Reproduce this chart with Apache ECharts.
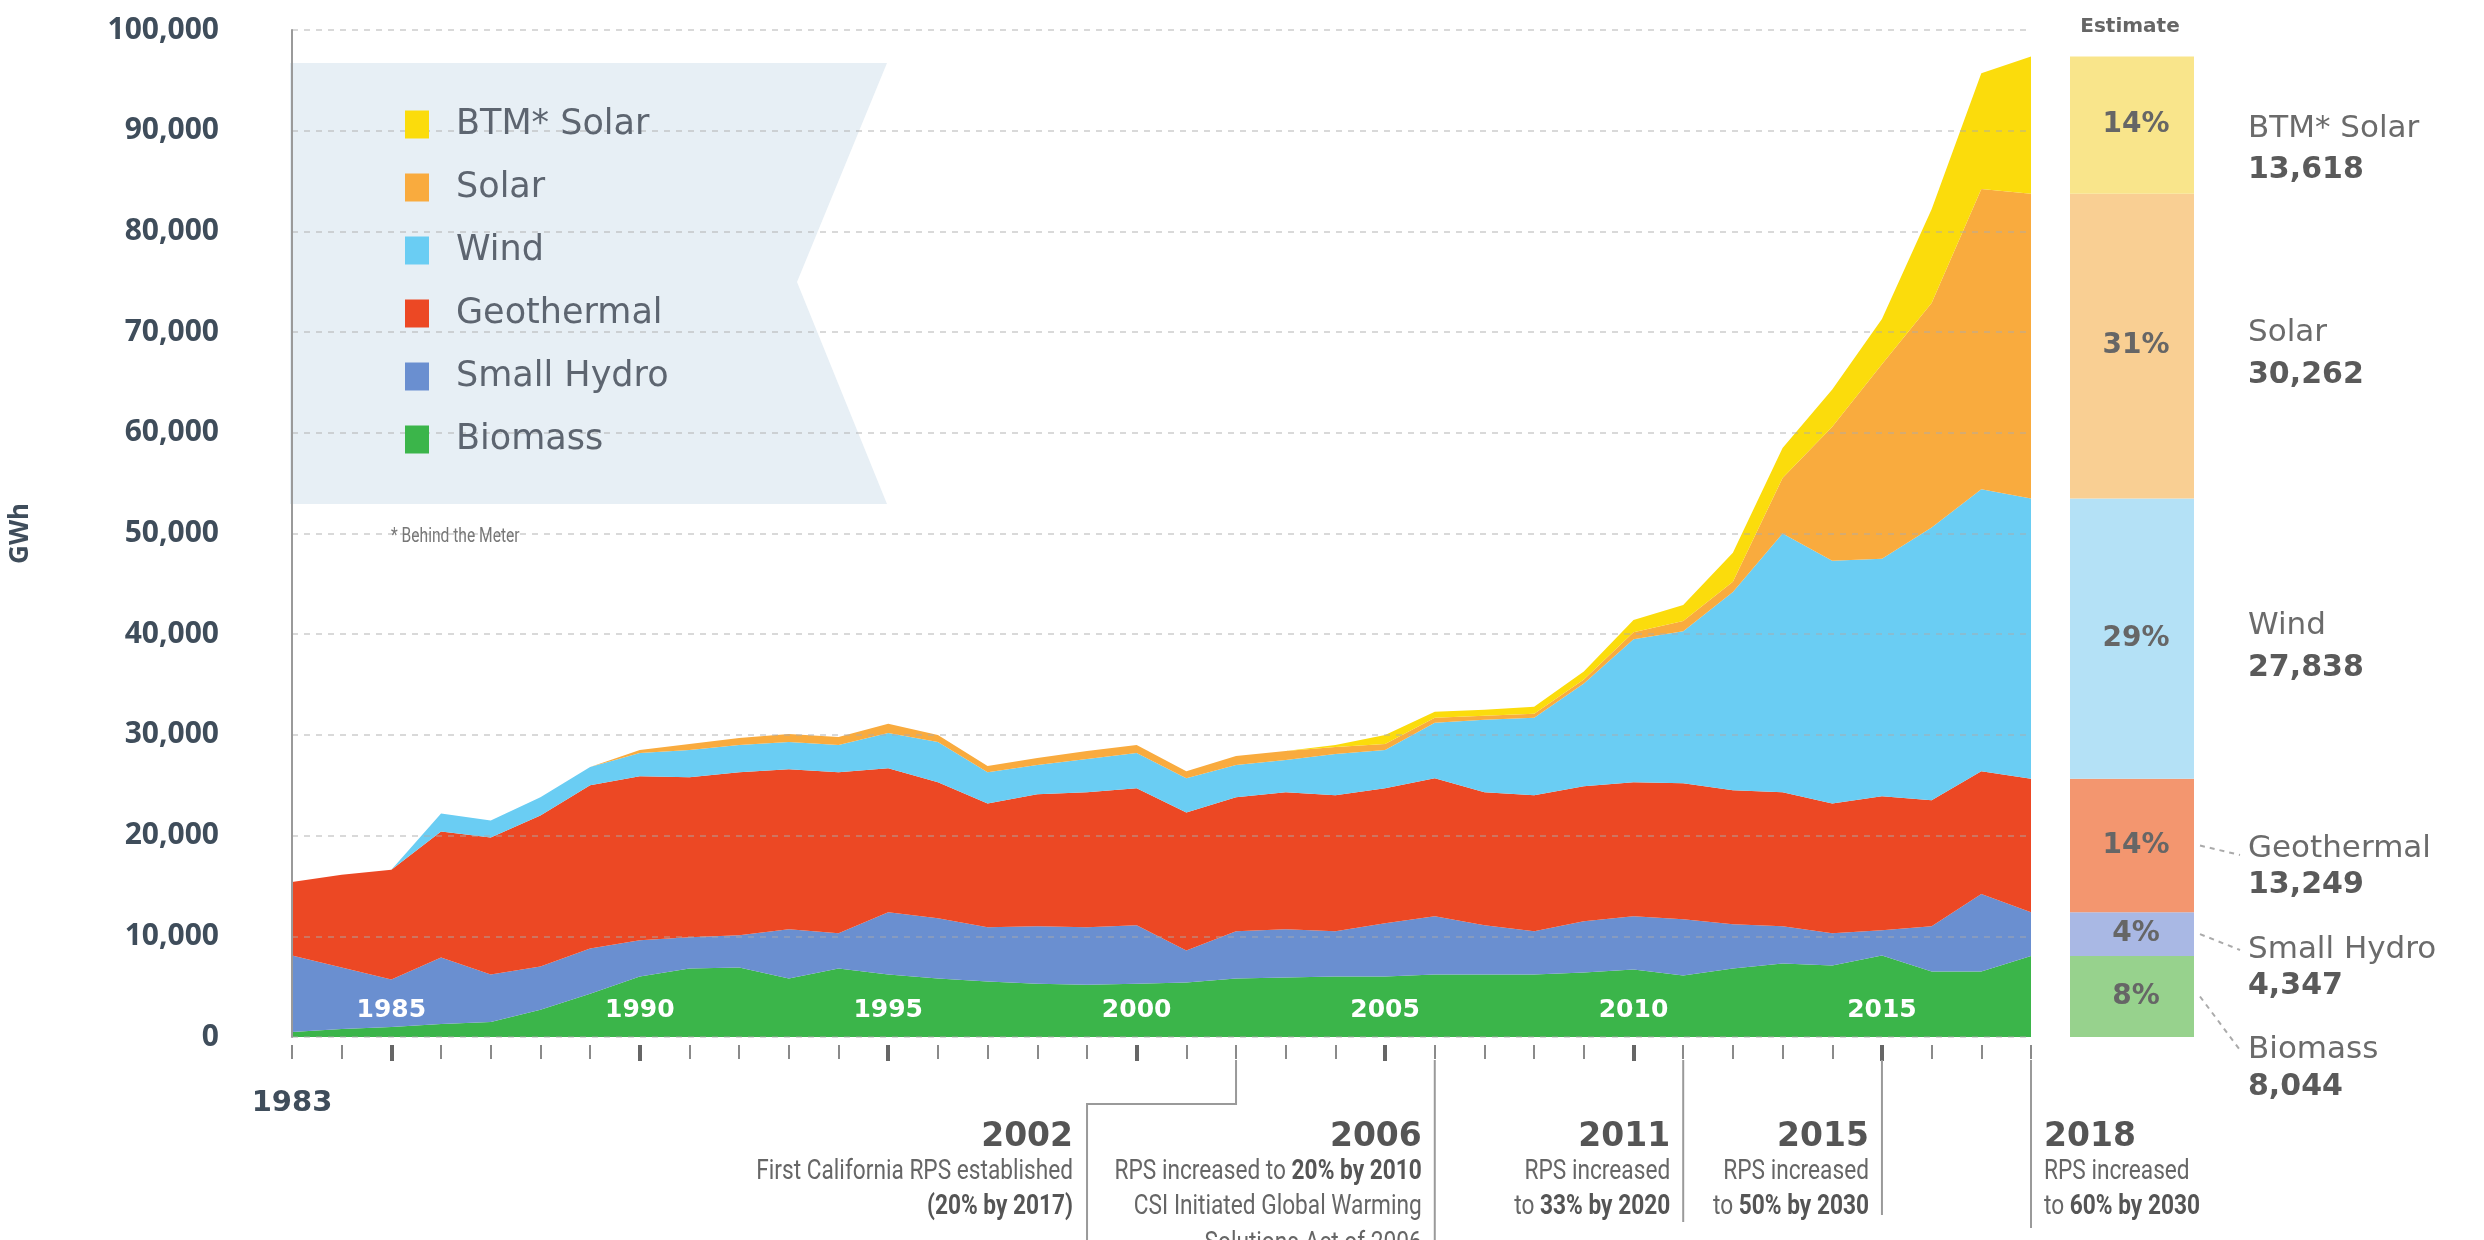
<!DOCTYPE html>
<html><head><meta charset="utf-8">
<script src="https://cdn.jsdelivr.net/npm/echarts@6/dist/echarts.min.js"></script>
<style>html,body{margin:0;padding:0;background:#fff}#c{width:2484px;height:1240px}</style>
</head><body><div id="c"></div>
<script>
// ---------- DATA ----------
const years = ['1983','1984','1985','1986','1987','1988','1989','1990','1991','1992','1993','1994','1995','1996','1997','1998','1999','2000','2001','2002','2003','2004','2005','2006','2007','2008','2009','2010','2011','2012','2013','2014','2015','2016','2017','2018'];
const biomass    = [500,800,1000,1300,1500,2700,4300,6000,6800,6900,5800,6800,6200,5800,5500,5300,5200,5300,5400,5800,5900,6000,6000,6200,6200,6200,6400,6700,6100,6800,7300,7100,8100,6500,6500,8044];
const smallHydro = [7600,6100,4700,6600,4700,4300,4500,3600,3100,3200,4900,3500,6200,6000,5400,5700,5700,5800,3200,4700,4800,4500,5300,5800,4900,4300,5100,5300,5600,4400,3700,3200,2500,4500,7700,4347];
const geothermal = [7300,9200,10900,12500,13600,15000,16200,16300,15900,16200,15900,16000,14300,13500,12300,13100,13400,13600,13700,13300,13600,13500,13400,13700,13200,13500,13400,13300,13500,13300,13300,12900,13300,12500,12200,13249];
const wind       = [0,0,0,1800,1700,1800,1800,2300,2700,2700,2700,2700,3500,4000,3100,2900,3300,3500,3400,3200,3200,4100,3800,5500,7200,7700,10200,14200,15100,19700,25700,24100,23600,27100,28000,27838];
const solar      = [0,0,0,0,0,0,0,300,600,700,800,800,900,700,600,700,800,800,700,900,900,700,600,500,400,400,400,700,1000,1000,5500,13300,19300,22300,29800,30262];
const btmSolar   = [0,0,0,0,0,0,0,0,0,0,0,0,0,0,0,0,0,0,0,0,0,200,900,600,600,700,800,1200,1600,2900,3000,3700,4500,9300,11500,13618];

const seriesNames  = ['Biomass','Small Hydro','Geothermal','Wind','Solar','BTM* Solar'];
const legendOrder  = ['BTM* Solar','Solar','Wind','Geothermal','Small Hydro','Biomass'];
const estimateValues = [8044, 4347, 13249, 27838, 30262, 13618];
const estimatePct    = ['8%','4%','14%','29%','31%','14%'];

const annotations = [
  {year:'2002', side:'left', elbow:true, end:1240, lines:['First California RPS established','{b|(20% by 2017)}']},
  {year:'2006', side:'left', end:1240, lines:['RPS increased to {b|20% by 2010}','CSI Initiated Global Warming','Solutions Act of 2006']},
  {year:'2011', side:'left', end:1222, lines:['RPS increased','to {b|33% by 2020}']},
  {year:'2015', side:'left', end:1215, lines:['RPS increased','to {b|50% by 2030}']},
  {year:'2018', side:'right', end:1228, lines:['RPS increased','to {b|60% by 2030}']}
];

// ---------- STYLE ----------
const colors      = ['#3bb54a','#6a8fd0','#ec4824','#6acdf3','#f9ab3e','#fbdc0c'];
const lightColors = ['#97d28d','#a9b8e4','#f3966f','#b4e1f6','#f9cf93','#f9e58b'];
const DARK = '#3f4d5b';

const chart = echarts.init(document.getElementById('c'), null, {renderer:'canvas'});
const dataArr = [biomass, smallHydro, geothermal, wind, solar, btmSolar];

const areaSeries = seriesNames.map((n,i)=>({
  name:n, type:'line', stack:'total', data:dataArr[i], xAxisIndex:0, yAxisIndex:0,
  symbol:'none', showSymbol:false, color:colors[i],
  lineStyle:{width:0}, areaStyle:{color:colors[i], opacity:1}, z:2, silent:true
}));
const barSeries = seriesNames.map((n,i)=>({
  name:'Estimate ' + n, type:'bar', stack:'est', xAxisIndex:3, yAxisIndex:1,
  data:[estimateValues[i]], barWidth:'100%', itemStyle:{color:lightColors[i]},
  label:{show:true, position:'inside', formatter:()=>estimatePct[i], fontFamily:'DejaVu Sans', fontWeight:'bold', fontSize:28, color:'#666', offset:[4,0]},
  silent:true
}));

const option = {
  animation:false,
  backgroundColor:'#fff',
  grid:[{left:288, right:453, top:30, bottom:203}, {left:2070, width:124, top:30, bottom:203}],
  legend:{
    orient:'vertical', left:400, top:102, itemWidth:24, itemHeight:28, itemGap:28, icon:'rect',
    selectedMode:false, data:legendOrder,
    textStyle:{fontFamily:'DejaVu Sans', fontSize:35, color:'#5d6570', padding:[0,0,0,22]}
  },
  xAxis:[
    {gridIndex:0, type:'category', position:'bottom', data:years, boundaryGap:false, z:5,
     axisLine:{show:false}, axisTick:{show:false}, splitLine:{show:false},
     axisLabel:{inside:true, margin:14, color:'#fff', fontFamily:'DejaVu Sans', fontWeight:'bold', fontSize:25,
       interval:(i,v)=> (+v)%5===0}},
    {gridIndex:0, type:'category', position:'bottom', data:years, boundaryGap:false, offset:8,
     axisLine:{show:false}, splitLine:{show:false},
     axisTick:{show:true, interval:0, length:14, lineStyle:{color:'#8a8a8a', width:2}},
     axisLabel:{show:true, interval:(i)=> i===0, margin:44, color:DARK, fontFamily:'DejaVu Sans', fontWeight:'bold', fontSize:29}},
    {gridIndex:0, type:'category', position:'bottom', data:years, boundaryGap:false, offset:8,
     axisLine:{show:false}, splitLine:{show:false},
     axisTick:{show:true, interval:(i,v)=> (+v)%5===0, length:16, lineStyle:{color:'#666', width:4}},
     axisLabel:{show:false}},
    {gridIndex:1, type:'category', data:['Estimate'], show:false}
  ],
  yAxis:[
    {gridIndex:0, type:'value', min:0, max:100000, interval:10000, z:3,
     name:'GWh', nameLocation:'middle', nameGap:258,
     nameTextStyle:{fontFamily:'Noto Sans', fontWeight:'bold', fontSize:26, color:DARK},
     axisLine:{show:true, lineStyle:{color:'#9a9a9a', width:2}},
     axisTick:{show:false},
     axisLabel:{margin:73, formatter:v=>v.toLocaleString('en-US'), fontFamily:'Noto Sans', fontWeight:'bold', fontSize:30, color:DARK},
     splitLine:{show:true, lineStyle:{color:'rgba(170,170,170,0.45)', width:2, type:[6,6]}}},
    {gridIndex:1, type:'value', min:0, max:100000, show:false}
  ],
  series:[...areaSeries, ...barSeries],
  graphic:[]
};
chart.setOption(option);

// ---------- ANNOTATION GRAPHICS ----------
const g = [];
g.push({type:'polygon', z:1, shape:{points:[[290,63],[887,63],[797,282],[887,504],[290,504]]}, style:{fill:'#e7eff5'}, silent:true});
g.push({type:'text', z:10, x:391, y:537, scaleX:0.78, style:{text:'* Behind the Meter', fontFamily:'Roboto', fontSize:20, fill:'#777', align:'left', verticalAlign:'middle'}});
g.push({type:'text', z:10, x:2130, y:27, style:{text:'Estimate', fontFamily:'DejaVu Sans', fontWeight:'bold', fontSize:20, fill:'#666', align:'center', verticalAlign:'middle'}});

const labelYs = {'BTM* Solar':[129,170], 'Solar':[333,375], 'Wind':[626,668], 'Geothermal':[849,885], 'Small Hydro':[950,986], 'Biomass':[1050,1087]};
seriesNames.forEach((n,i)=>{
  const [y1,y2] = labelYs[n];
  g.push({type:'text', z:10, x:2248, y:y1, style:{text:n, fontFamily:'DejaVu Sans', fontSize:31, fill:'#6b6b6b', align:'left', verticalAlign:'middle'}});
  g.push({type:'text', z:10, x:2248, y:y2, style:{text:estimateValues[i].toLocaleString('en-US'), fontFamily:'DejaVu Sans', fontWeight:'bold', fontSize:30, fill:'#5a5a5a', align:'left', verticalAlign:'middle'}});
});
let cum = 0;
const centers = estimateValues.map(v=>{ const c = cum + v/2; cum += v; return chart.convertToPixel({yAxisIndex:1}, c); });
[[2,855],[1,950],[0,1050]].forEach(([idx,ty])=>{
  g.push({type:'line', z:10, shape:{x1:2200, y1:centers[idx], x2:2240, y2:ty}, style:{stroke:'#aaa', lineWidth:2, lineDash:[5,5]}, silent:true});
});

const lineColor = '#9a9a9a';
const yTop = 1060;
const headY = 1137, rowYs = [1172, 1207, 1244];
annotations.forEach(a=>{
  const x = chart.convertToPixel({xAxisIndex:0}, a.year);
  let textX;
  if (a.elbow){
    const ex = x - 149;
    g.push({type:'polyline', z:10, shape:{points:[[x,yTop],[x,1104],[ex,1104],[ex,a.end]]}, style:{stroke:lineColor, lineWidth:2, fill:null}, silent:true});
    textX = ex - 14;
  } else {
    g.push({type:'line', z:10, shape:{x1:x, y1:yTop, x2:x, y2:a.end}, style:{stroke:lineColor, lineWidth:2}, silent:true});
    textX = a.side==='left' ? x - 13 : x + 13;
  }
  const align = a.side==='left' ? 'right' : 'left';
  g.push({type:'text', z:10, x:textX, y:headY, style:{text:a.year, fontFamily:'DejaVu Sans', fontWeight:'bold', fontSize:33, fill:'#555', align, verticalAlign:'middle'}});
  a.lines.forEach((ln,k)=>{
    g.push({type:'text', z:10, x:textX, y:rowYs[k], scaleX:0.84,
      style:{text:ln, fontFamily:'Roboto', fontSize:27, fill:'#666', align, verticalAlign:'middle',
        rich:{b:{fontFamily:'Roboto', fontWeight:'bold', fontSize:27, fill:'#555'}}}});
  });
});
chart.setOption({graphic:g});
</script>
</body></html>
